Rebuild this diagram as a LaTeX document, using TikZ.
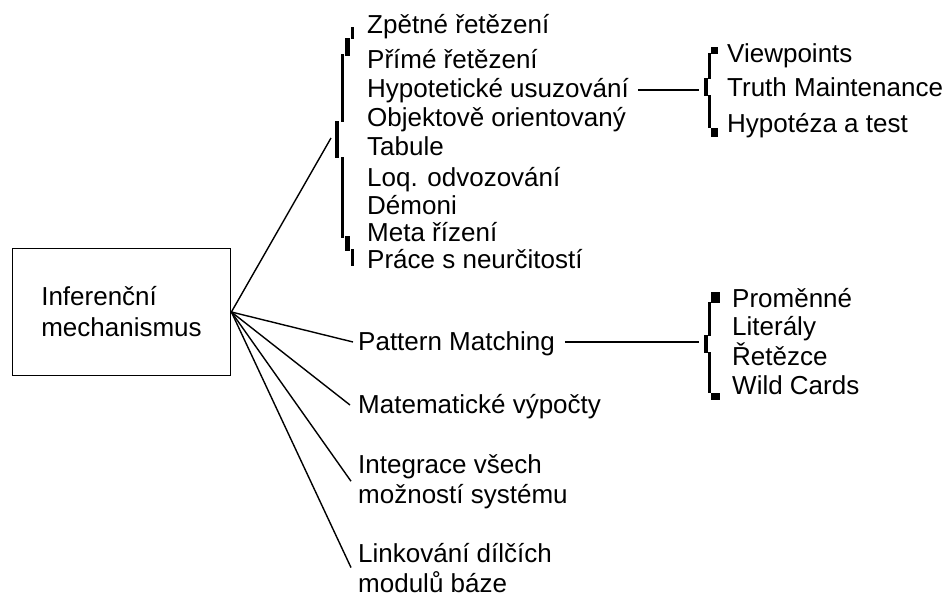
\documentclass[tikz,border=0pt]{standalone}
\usepackage{fontspec}
\setmainfont{Liberation Sans}
\begin{document}
\begin{tikzpicture}[x=1pt,y=-1pt,
  lbl/.style={anchor=base west, inner sep=0pt, align=left,
              font=\fontsize{26}{30}\selectfont},
  conn/.style={line width=1.4pt},
  hconn/.style={line width=1.8pt},
  bar/.style={fill=black}]
\useasboundingbox (0,0) rectangle (948,599);

% central box
\node[draw, line width=1.8pt, minimum width=218pt, minimum height=127pt,
      inner sep=0pt, align=left, font=\fontsize{26}{31}\selectfont]
      (box) at (121.5,312) {Inferenční\\mechanismus};

% inference methods
\node[lbl] (zr)  at (367,34)  {Zpětné řetězení};
\node[lbl] (pr)  at (367,69)  {Přímé řetězení};
\node[lbl] (hyp) at (367,98)  {Hypotetické usuzování};
\node[lbl] (obj) at (367,127) {Objektově orientovaný};
\node[lbl] (tab) at (367,156) {Tabule};
\node[lbl] (log) at (367,186) {Loq. odvozování};
\node[lbl] (dem) at (367,214) {Démoni};
\node[lbl] (met) at (367,241) {Meta řízení};
\node[lbl] (pra) at (367,268) {Práce s neurčitostí};

% hypothetical reasoning variants
\node[lbl] (vp)  at (727,63)  {Viewpoints};
\node[lbl] (tm)  at (727,97)  {Truth Maintenance};
\node[lbl] (ht)  at (727,133) {Hypotéza a test};

% other capabilities (base of a two-line node is its last line)
\node[lbl] (pm)  at (358,350) {Pattern Matching};
\node[lbl] (mv)  at (358,413) {Matematické výpočty};
\node[lbl] (ig)  at (358,503) {Integrace všech\\možností systému};
\node[lbl] (lk)  at (358,592) {Linkování dílčích\\modulů báze};

% pattern kinds
\node[lbl] (pv)  at (732,307) {Proměnné};
\node[lbl] (lt)  at (732,335) {Literály};
\node[lbl] (rt)  at (732,365) {Řetězce};
\node[lbl] (wc)  at (732,394) {Wild Cards};

% brace tips
\coordinate (lbt) at (331,138);
\coordinate (rb1) at (699,90);
\coordinate (rb2) at (699,342);

% left brace
\fill[bar] (351,27) rectangle (354,39);
\fill[bar] (345,38) rectangle (350,56);
\fill[bar] (341,54) rectangle (344,122);
\fill[bar] (335,121) rectangle (339,158);
\fill[bar] (341,157) rectangle (344,238);
\fill[bar] (345,236) rectangle (350,251);
\fill[bar] (351,249) rectangle (354,266);

% upper right brace
\fill[bar] (711,47) rectangle (718,54);
\fill[bar] (708,53) rectangle (711,79);
\fill[bar] (704,78) rectangle (708,96);
\fill[bar] (708,95) rectangle (711,128);
\fill[bar] (711,128) rectangle (718,137);

% lower right brace
\fill[bar] (711,292) rectangle (720,303);
\fill[bar] (708,302) rectangle (711,336);
\fill[bar] (704,335) rectangle (708,353);
\fill[bar] (708,352) rectangle (711,393);
\fill[bar] (711,393) rectangle (720,400);

% connectors
\draw[conn] (box.east) -- (lbt);
\draw[conn] (box.east) -- ([shift={(-5pt,8pt)}]pm.base west);
\draw[conn] (box.east) -- ([shift={(-8pt,8pt)}]mv.base west);
\draw[conn] (box.east) -- ([xshift=-7pt]ig.west);
\draw[conn] (box.east) -- ([xshift=-7pt]lk.west);
\draw[hconn] ([shift={(9pt,8pt)}]hyp.base east) -- (rb1);
\draw[hconn] ([shift={(10pt,8pt)}]pm.base east) -- (rb2);
\end{tikzpicture}
\end{document}
